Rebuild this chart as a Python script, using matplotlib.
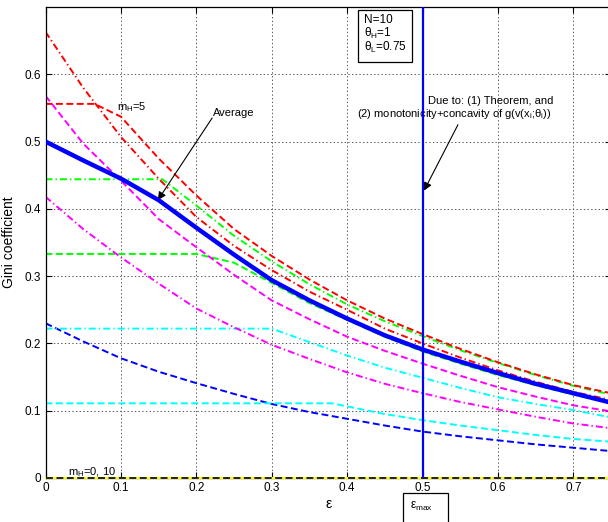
import matplotlib
matplotlib.use("Agg")
import matplotlib.pyplot as plt
from matplotlib.patches import Rectangle

# values (Gini coefficient vs epsilon)
eps_grid = [0.0, 0.05, 0.1, 0.15, 0.2, 0.25, 0.3, 0.35, 0.4, 0.45, 0.5, 0.55, 0.6, 0.65, 0.7, 0.75]

gini_avg = [0.500, 0.472, 0.445, 0.413, 0.372, 0.332, 0.294, 0.264, 0.237, 0.212, 0.191, 0.173, 0.156, 0.140, 0.126, 0.112]
gini_blue_dash = [0.230, 0.203, 0.178, 0.158, 0.141, 0.125, 0.110, 0.098, 0.088, 0.078, 0.069, 0.062, 0.056, 0.050, 0.045, 0.040]
gini_red_dashdot = [0.663, 0.580, 0.507, 0.445, 0.388, 0.345, 0.309, 0.277, 0.250, 0.222, 0.200, 0.179, 0.160, 0.143, 0.128, 0.116]
gini_mag_dash = [0.568, 0.497, 0.442, 0.385, 0.343, 0.302, 0.264, 0.236, 0.210, 0.189, 0.170, 0.152, 0.135, 0.121, 0.108, 0.099]
gini_mag_dashdot = [0.418, 0.370, 0.328, 0.289, 0.252, 0.224, 0.198, 0.177, 0.157, 0.140, 0.126, 0.113, 0.102, 0.091, 0.081, 0.074]

red_dash_x = [0.0, 0.065, 0.1, 0.15, 0.2, 0.25, 0.3, 0.35, 0.4, 0.45, 0.5, 0.55, 0.6, 0.65, 0.7, 0.75]
red_dash_y = [0.556, 0.556, 0.537, 0.475, 0.420, 0.370, 0.330, 0.295, 0.264, 0.237, 0.214, 0.192, 0.172, 0.154, 0.138, 0.126]

green_dashdot_x = [0.0, 0.155, 0.2, 0.25, 0.3, 0.35, 0.4, 0.45, 0.5, 0.55, 0.6, 0.65, 0.7, 0.75]
green_dashdot_y = [0.444, 0.444, 0.405, 0.360, 0.322, 0.288, 0.258, 0.233, 0.211, 0.190, 0.171, 0.153, 0.137, 0.124]

green_dash_x = [0.0, 0.2, 0.25, 0.3, 0.35, 0.4, 0.45, 0.5, 0.55, 0.6, 0.65, 0.7, 0.75]
green_dash_y = [0.333, 0.333, 0.320, 0.290, 0.260, 0.235, 0.210, 0.188, 0.170, 0.153, 0.138, 0.124, 0.111]

cyan_dashdot_x = [0.0, 0.3, 0.35, 0.4, 0.45, 0.5, 0.55, 0.6, 0.65, 0.7, 0.75]
cyan_dashdot_y = [0.222, 0.222, 0.202, 0.182, 0.164, 0.149, 0.134, 0.120, 0.110, 0.101, 0.090]

cyan_dash_x = [0.0, 0.38, 0.45, 0.5, 0.55, 0.6, 0.65, 0.7, 0.75]
cyan_dash_y = [0.111, 0.111, 0.095, 0.086, 0.078, 0.071, 0.064, 0.058, 0.054]

zero_line = [0.0] * len(eps_grid)

eps_max = 0.5
x_ticks = [0, 0.1, 0.2, 0.3, 0.4, 0.5, 0.6, 0.7]
y_ticks = [0, 0.1, 0.2, 0.3, 0.4, 0.5, 0.6]

plt.rcParams["font.family"] = ["Liberation Sans", "DejaVu Sans"]
plt.rcParams["mathtext.fontset"] = "custom"
plt.rcParams["mathtext.rm"] = "Liberation Sans"
plt.rcParams["mathtext.it"] = "Liberation Sans"
plt.rcParams["mathtext.bf"] = "Liberation Sans:bold"
plt.rcParams["lines.scale_dashes"] = False

DASH = (5, 2.5)
DASHDOT = (5, 2.2, 1, 2.2)
BLUE, GREEN, RED = "#0000ff", "#00ff00", "#ff0000"
CYAN, MAGENTA = "#00ffff", "#ff00ff"

fig = plt.figure(figsize=(6.08, 5.22), dpi=100)
ax = fig.add_axes([45.5 / 608, 44 / 522, 565.5 / 608, 471 / 522])

lw = 1.4
# zero lines (m_H = 0 and 10)
ax.plot(eps_grid, zero_line, color="yellow", lw=1.5, zorder=3, clip_on=False)
ax.plot(eps_grid, zero_line, color="k", lw=1.2, dashes=DASH, zorder=3, clip_on=False)

ax.plot(eps_grid, gini_blue_dash, color=BLUE, lw=lw, dashes=DASH)
ax.plot(green_dash_x, green_dash_y, color=GREEN, lw=lw, dashes=DASH)
ax.plot(green_dashdot_x, green_dashdot_y, color=GREEN, lw=lw, dashes=DASHDOT)
ax.plot(red_dash_x, red_dash_y, color=RED, lw=lw, dashes=DASH)
ax.plot(eps_grid, gini_red_dashdot, color=RED, lw=lw, dashes=DASHDOT)
ax.plot(cyan_dash_x, cyan_dash_y, color=CYAN, lw=lw, dashes=DASH)
ax.plot(cyan_dashdot_x, cyan_dashdot_y, color=CYAN, lw=lw, dashes=DASHDOT)
ax.plot(eps_grid, gini_mag_dash, color=MAGENTA, lw=lw, dashes=DASH)
ax.plot(eps_grid, gini_mag_dashdot, color=MAGENTA, lw=lw, dashes=DASHDOT)

# average
ax.plot(eps_grid, gini_avg, color=BLUE, lw=3.2, solid_capstyle="butt", zorder=4)
# eps_max marker
ax.axvline(eps_max, color=BLUE, lw=1.6, zorder=4)

ax.set_xlim(0, 0.75)
ax.set_ylim(0, 0.7)
ax.set_xticks(x_ticks)
ax.set_yticks(y_ticks)
ax.set_xticklabels([f"{t:g}" for t in x_ticks])
ax.set_yticklabels([f"{t:g}" for t in y_ticks])
ax.tick_params(direction="in", length=4, width=0.8, labelsize=8.5, pad=3,
               top=True, right=True)
ax.grid(True, linestyle=":", color="0.35", lw=0.7)
for s in ax.spines.values():
    s.set_linewidth(0.9)

ax.set_xlabel("ε", fontsize=10, labelpad=2)
ax.set_ylabel("Gini coefficient", fontsize=10, labelpad=6)

# annotations
fs = 8
ax.text(0.095, 0.547, r"m$_H$=5", fontsize=fs, va="baseline")
ax.text(0.030, 0.0045, r"m$_H$=0, 10", fontsize=fs, va="baseline")
ax.text(0.2225, 0.538, "Average", fontsize=fs, va="baseline")
ax.annotate("", xy=(0.149, 0.413), xytext=(0.221, 0.535),
            arrowprops=dict(arrowstyle="-|>", color="k", lw=0.8,
                            mutation_scale=12, shrinkA=0, shrinkB=0))
ax.text(0.5077, 0.556, "Due to: (1) Theorem, and", fontsize=fs, va="baseline")
ax.text(0.4135, 0.537, r"(2) monotonicity+concavity of g(v(x$_i$;$\theta_i$))",
        fontsize=fs, va="baseline")
ax.annotate("", xy=(0.502, 0.427), xytext=(0.547, 0.525),
            arrowprops=dict(arrowstyle="-|>", color="k", lw=0.8,
                            mutation_scale=12, shrinkA=0, shrinkB=0))

# parameter box
fig.patches.append(Rectangle((358 / 608, (522 - 62) / 522), 54 / 608, 52 / 522,
                             transform=fig.transFigure, facecolor="white",
                             edgecolor="k", lw=0.9, zorder=5))
fig.text(364 / 608, (522 - 20) / 522, "N=10", fontsize=fs + 0.5, va="center", zorder=6)
fig.text(364 / 608, (522 - 33) / 522, r"$\theta_H$=1", fontsize=fs + 0.5, va="center", zorder=6)
fig.text(364 / 608, (522 - 47) / 522, r"$\theta_L$=0.75", fontsize=fs + 0.5, va="center", zorder=6)

# eps_max box under the axis
fig.patches.append(Rectangle((403 / 608, -0.05), 45 / 608, 0.05 + (522 - 493) / 522,
                             transform=fig.transFigure, facecolor="white",
                             edgecolor="k", lw=0.9, zorder=5))
fig.text(421 / 608, (522 - 506) / 522, r"ε$_{max}$", fontsize=fs + 0.5, ha="center",
         va="center", zorder=6)

fig.savefig("out.png", dpi=100)
